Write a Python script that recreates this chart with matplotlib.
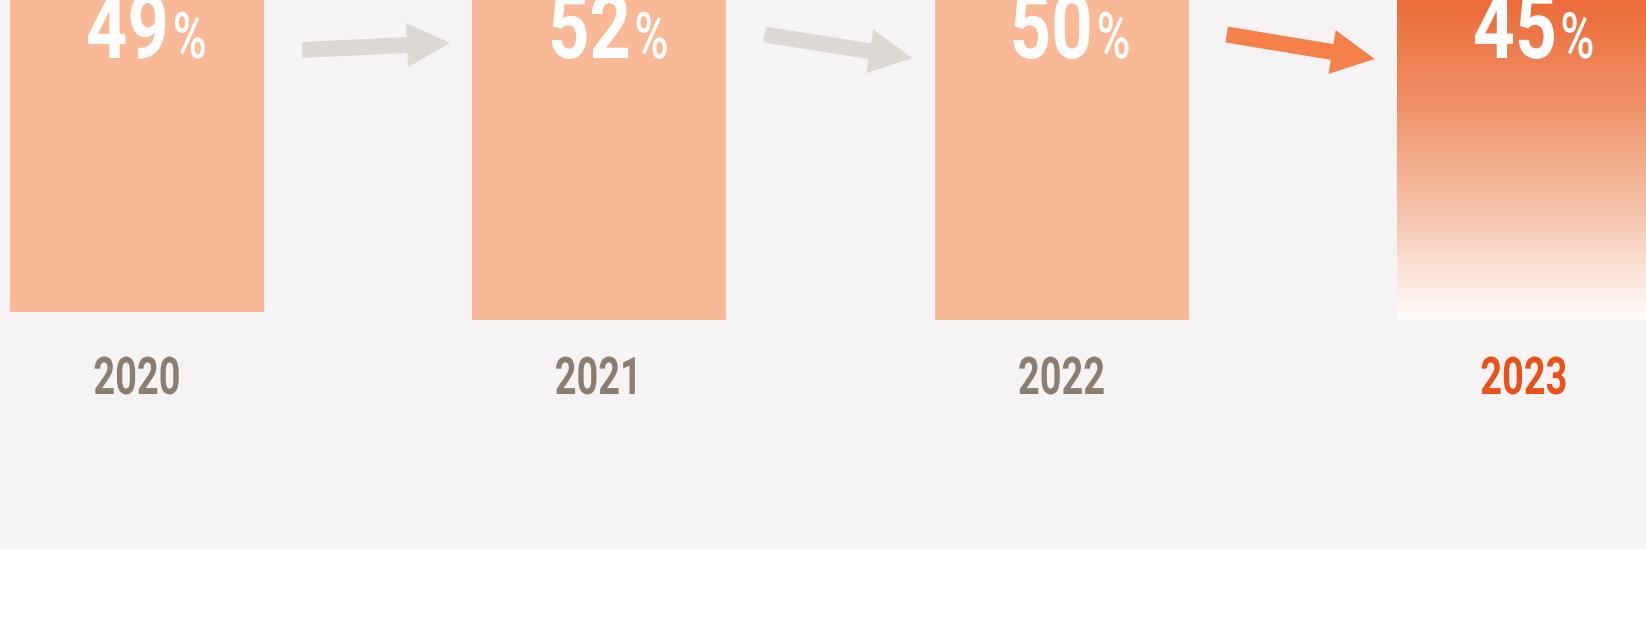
import numpy as np
import matplotlib
matplotlib.use("Agg")
import matplotlib.pyplot as plt
from matplotlib.colors import LinearSegmentedColormap
from matplotlib.textpath import TextPath
from matplotlib.font_manager import FontProperties
from matplotlib.patheffects import AbstractPathEffect
from matplotlib.transforms import Affine2D

years = ["2020", "2021", "2022", "2023"]
shares = [49, 52, 50, 45]

# layout (pixel units of the 1646x637 canvas, y grows downwards)
W, H = 1646, 637
x0_px, step_px, bar_px = 137, 462.3, 254
bar_bottom = [312, 320, 320, 320]
arrow_tail_y = [50, 34.5, 34.5]
arrow_tip_y = [43, 58, 59]

bg = "#f6f3f4"
bar_color = "#f9b996"
label_color = "#8c7d71"
accent = "#e9511b"
arrow_grey = "#ddd8d5"
arrow_orange = "#f4804a"

font = FontProperties(family="Roboto", weight="bold")
font_pct = FontProperties(family="Roboto", weight="medium")


class Squeeze(AbstractPathEffect):
    # narrows the drawn glyphs around one side (or the centre) -> condensed look
    def __init__(self, sx, pivot="center"):
        super().__init__()
        self.sx = sx
        self.pivot = pivot

    def draw_path(self, renderer, gc, tpath, affine, rgbFace=None):
        bb = tpath.get_extents(affine)
        c = {"left": bb.x0, "right": bb.x1}.get(self.pivot, (bb.x0 + bb.x1) / 2)
        squeeze = Affine2D().translate(-c, 0).scale(self.sx, 1).translate(c, 0)
        renderer.draw_path(gc, tpath, affine + squeeze, rgbFace)


def sizing(s, prop, height, sx):
    # font size (pt) giving this ink height, and the squeezed ink width (px)
    ext = TextPath((0, 0), s, size=100, prop=prop).get_extents()
    k = height / ext.height
    return 100 * k * 72 / 100, ext.width * k * sx


def label(xd, y, s, prop, height, sx, color, ha="center"):
    size, w = sizing(s, prop, height, sx)
    ax.text(xd, y, s, fontproperties=prop, fontsize=size, color=color,
            ha=ha, va="baseline", zorder=5,
            path_effects=[Squeeze(sx, ha)])


fig = plt.figure(figsize=(W / 100, H / 100), dpi=100, facecolor="white")
ax = fig.add_axes([0, 0, 1, 1])
ax.set_facecolor("white")
ax.axis("off")

width = bar_px / step_px
ax.axhspan(0, 549, color=bg, zorder=0, lw=0)

x = np.arange(len(years))
for i in range(len(years)):
    top = -20
    if i == len(years) - 1:
        grad = LinearSegmentedColormap.from_list(
            "g", [(0, "#ea6530"), (0.35, "#f08e64"), (0.7, "#f6c6b0"), (1, "#fffcfb")])
        img = np.linspace(0, 1, 256).reshape(-1, 1)
        ax.imshow(img, cmap=grad, aspect="auto", zorder=1,
                  extent=[x[i] - width / 2, x[i] + width / 2, bar_bottom[i], top])
    else:
        ax.bar(x[i], bar_bottom[i] - top, bottom=top, width=width,
               color=bar_color, ec="none", zorder=1, lw=0)

for i in range(len(years) - 1):
    col = arrow_orange if i == len(years) - 2 else arrow_grey
    ax.annotate("", xy=(x[i] + 0.677, arrow_tip_y[i]),
                xytext=(x[i] + 0.357, arrow_tail_y[i]),
                arrowprops=dict(arrowstyle="simple,head_length=31,head_width=32,tail_width=11.5",
                                mutation_scale=1, color=col, lw=0,
                                shrinkA=0, shrinkB=0),
                zorder=2)

ax.set_xlim(-x0_px / step_px, (W - x0_px) / step_px)
ax.set_ylim(H, 0)

gap = 2
for i in range(len(years)):
    # value label: big digits + small percent sign, group centred a bit right of the bar
    num = str(shares[i])
    _, wn = sizing(num, font, 66, 0.8)
    _, wp = sizing("%", font_pct, 47, 0.72)
    left = 10 - (wn + gap + wp) / 2
    label(x[i] + (left + wn) / step_px, 58, num, font, 66, 0.8, "white", ha="right")
    label(x[i] + (left + wn + gap) / step_px, 58, "%", font_pct, 47, 0.72, "white", ha="left")
    # year label under the bar
    label(x[i], 394, years[i], font, 38, 0.73,
          accent if i == len(years) - 1 else label_color)

fig.savefig("out.png", dpi=100, facecolor="white")
